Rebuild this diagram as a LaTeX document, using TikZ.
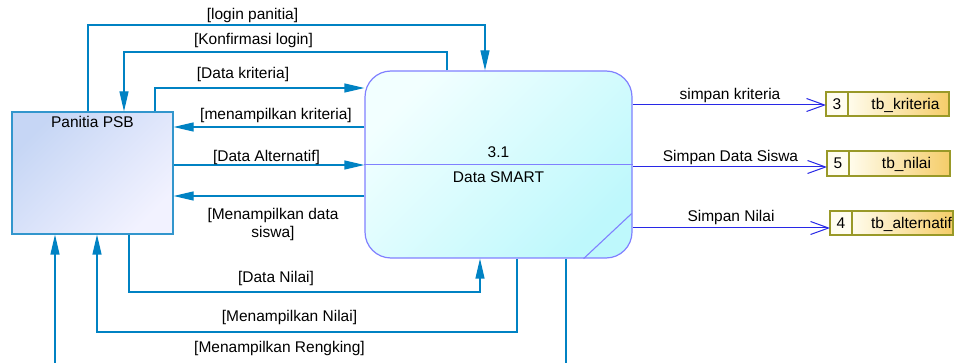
\documentclass[tikz,border=0pt]{standalone}
\usepackage{fontspec}
\setmainfont{Liberation Sans}
\usetikzlibrary{arrows.meta, calc, positioning}
\tikzset{every node/.style={font=\fontsize{15.5}{18}\selectfont}}

\begin{document}
\begin{tikzpicture}[x=1pt, y=-1pt,
  entitybox/.style={draw=entityline, line width=1.2pt, minimum width=161pt, minimum height=122pt,
    top color=entitytop, bottom color=entitybot, shading angle=45},
  procbox/.style={draw=procline, line width=1.2pt, rounded corners=26pt, minimum width=267pt,
    minimum height=187pt, top color=proctop, bottom color=procbot, shading angle=45},
  procedge/.style={procline, line width=1.1pt},
  dataflow/.style={flowcol, line width=1.2pt, -{Triangle[length=20pt, width=9pt]}},
  storeflow/.style={storecol, line width=1pt, -{Straight Barb[length=18pt, width=13pt]}},
  storeid/.style={draw=storeline, line width=1.2pt, fill=storeidfill, outer sep=0pt,
    minimum width=22pt, minimum height=24pt, inner sep=0pt, text height=11pt, text depth=0pt},
  storename/.style={draw=storeline, line width=1.2pt, left color=storeleft, right color=storeright,
    outer sep=0pt, minimum width=101pt, minimum height=24pt, inner sep=0pt},
  storetext/.style={inner sep=0pt, text height=11pt, text depth=0pt},
  flowlabel/.style={anchor=base, inner sep=0pt}]
  % Fixed frame of the screenshot.
  \path[use as bounding box] (0,0) rectangle (959,363);
  \fill[white] (0,0) rectangle (959,363);

  % Colours.
  \definecolor{flowcol}{RGB}{0,130,195}
  \definecolor{entityline}{RGB}{50,150,205}
  \definecolor{entitytop}{RGB}{198,214,245}
  \definecolor{entitybot}{RGB}{242,242,255}
  \definecolor{procline}{RGB}{128,128,255}
  \definecolor{proctop}{RGB}{242,255,255}
  \definecolor{procbot}{RGB}{190,248,252}
  \definecolor{storecol}{RGB}{40,40,230}
  \definecolor{storeline}{RGB}{153,153,40}
  \definecolor{storeidfill}{RGB}{255,253,240}
  \definecolor{storeleft}{RGB}{255,252,236}
  \definecolor{storeright}{RGB}{245,205,105}

  % External entity.
  \node[entitybox] (psb) at (92.5,173) {};
  \node[anchor=base] (psbtext) at ([yshift=-16pt]psb.north) {Panitia PSB};

  % Process.
  \node[procbox] (proc) at (498.5,164.5) {};
  \draw[procedge] (proc.west) -- (proc.east);
  \draw[procedge] ([xshift=-49pt]proc.south east) -- ([xshift=-1pt, yshift=45pt]proc.south east);
  \node[anchor=base] (procid) at ([yshift=7pt]proc.center) {3.1};
  \node[anchor=base] (procname) at ([yshift=-18pt]proc.center) {Data SMART};

  % Data stores.
  \node[storeid] (sid3) at (837,104) {3};
  \node[storename, right=0pt of sid3] (dskrit) {};
  \node[storetext] (txkrit) at ([xshift=7pt]dskrit.center) {tb\_kriteria};
  \node[storeid, minimum height=25pt] (sid5) at (838,163.5) {5};
  \node[storename, minimum height=25pt, right=0pt of sid5] (dsnilai) {};
  \node[storetext] (txnilai) at ([xshift=7pt]dsnilai.center) {tb\_nilai};
  \node[storeid] (sid4) at (841,223) {4};
  \node[storename, right=0pt of sid4] (dsalt) {};
  \node[storetext] (txalt) at ([xshift=9pt]dsalt.center) {tb\_alternatif};

  % Flows between Panitia PSB and the process.
  \draw[dataflow] (psb.north -| 88,0) |- (485,25) -- (proc.north -| 485,0);
  \draw[dataflow] (proc.north -| 447,0) |- (124,52) -- (psb.north -| 124,0);
  \draw[dataflow] (psb.north -| 155,0) |- (proc.west |- 0,88);
  \draw[dataflow] (proc.west |- 0,127) -- (psb.east |- 0,127);
  \draw[dataflow] (psb.east |- 0,165) -- (proc.west |- 0,165);
  \draw[dataflow] (proc.west |- 0,196) -- (psb.east |- 0,196);
  \draw[dataflow] (psb.south -| 129,0) |- (480,292) -- (proc.south -| 480,0);
  \draw[dataflow] (proc.south -| 517,0) |- (97,332) -- (psb.south -| 97,0);
  % Last flow runs below the bottom edge of the frame.
  \begin{scope}
    \clip (0,0) rectangle (959,363);
    \draw[dataflow] (proc.south -| 566,0) |- (55,380) -- (psb.south -| 55,0);
  \end{scope}

  % Flow labels.
  \node[flowlabel] (lblogin) at (252.5,19.5) {[login panitia]};
  \node[flowlabel] (lbkonf) at (253.5,44.5) {[Konfirmasi login]};
  \node[flowlabel] (lbkrit) at (243,79) {[Data kriteria]};
  \node[flowlabel] (lbshowkrit) at (276,120) {[menampilkan kriteria]};
  \node[flowlabel] (lbalt) at (266.5,161.5) {[Data Alternatif]};
  \node[align=center, inner sep=0pt] (lbsiswa) at (273,224) {[Menampilkan data\\siswa]};
  \node[flowlabel] (lbnilai) at (276,282.5) {[Data Nilai]};
  \node[flowlabel] (lbshownilai) at (289.5,321.5) {[Menampilkan Nilai]};
  \node[flowlabel] (lbrank) at (279.5,352.5) {[Menampilkan Rengking]};

  % Flows into the data stores.
  \draw[storeflow] (proc.east |- 0,105) -- (sid3.west |- 0,105);
  \draw[storeflow] (proc.east |- 0,167) -- (sid5.west |- 0,167);
  \draw[storeflow] (proc.east |- 0,228) -- (sid4.west |- 0,228);
  \node[flowlabel] (lbsimkrit) at (730,99.5) {simpan kriteria};
  \node[flowlabel] (lbsimsiswa) at (730.5,161.5) {Simpan Data Siswa};
  \node[flowlabel] (lbsimnilai) at (731,221.5) {Simpan Nilai};
\end{tikzpicture}
\end{document}
